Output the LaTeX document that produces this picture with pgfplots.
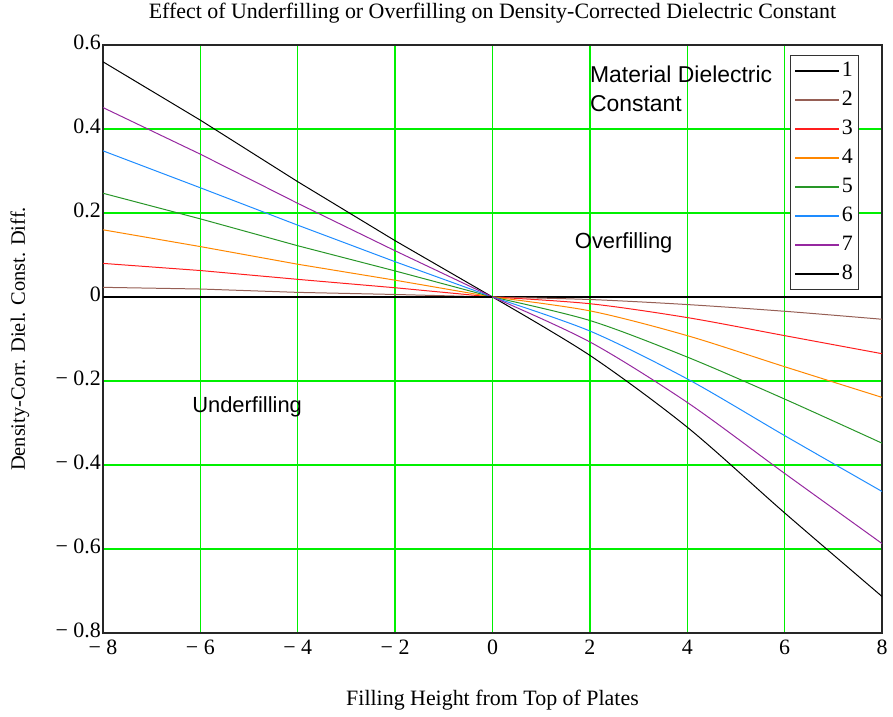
\documentclass[border=0pt]{standalone}
\usepackage{fontspec}
\setmainfont{Liberation Serif}
\newfontfamily\arial{Liberation Sans}
\usepackage{pgfplots}
\pgfplotsset{compat=1.18}
\definecolor{gridgreen}{RGB}{0,240,0}
\definecolor{cbrown}{RGB}{150,95,85}
\definecolor{cred}{RGB}{255,30,30}
\definecolor{corange}{RGB}{255,135,0}
\definecolor{cgreen}{RGB}{40,150,40}
\definecolor{cblue}{RGB}{30,140,255}
\definecolor{cpurple}{RGB}{150,40,160}
\begin{document}
\begin{tikzpicture}
\begin{axis}[
  name=ax,
  scale only axis,
  width=779bp, height=588bp,
  xmin=-8, xmax=8, ymin=-0.8, ymax=0.6,
  xtick={-8,-6,-4,-2,0,2,4,6,8},
  xticklabels={−\ 8,−\ 6,−\ 4,−\ 2,0,2,4,6,8},
  ytick={-0.8,-0.6,-0.4,-0.2,0,0.2,0.4,0.6},
  yticklabels={−\ 0.8,−\ 0.6,−\ 0.4,−\ 0.2,0,0.2,0.4,0.6},
  major tick length=0pt,
  tick label style={font=\fontsize{22}{26}\selectfont},
  xticklabel style={yshift=-6bp, inner sep=1bp},
  yticklabel style={xshift=-1bp, yshift=3bp, inner sep=1bp},
  grid=major,
  major grid style={gridgreen, line width=1.4pt},
  axis line style={black!85, line width=1.3pt},
  title={Effect of Underfilling or Overfilling on Density-Corrected Dielectric Constant},
  title style={at={(axis description cs:0.5,1.044)}, anchor=center, font=\fontsize{22}{26}\selectfont},
  xlabel={Filling Height from Top of Plates},
  xlabel style={at={(axis description cs:0.5,-0.114)}, anchor=center, font=\fontsize{22}{26}\selectfont},
  ylabel={Density-Corr. Diel. Const. Diff.},
  ylabel style={at={(axis description cs:-0.1066,0.5)}, anchor=center, font=\fontsize{20.5}{24}\selectfont},
  legend style={at={(axis description cs:0.882,0.983)}, anchor=north west,
    draw=black!80, line width=1pt, inner xsep=4bp, inner ysep=6bp,
    font=\fontsize{22}{26}\selectfont, row sep=10bp,
    nodes={inner sep=2bp, text height=13bp, text depth=2bp}},
  legend cell align=left,
  legend image code/.code={\draw[#1, line width=1.2pt] (0bp,0bp) -- (44bp,0bp);},
  every axis plot/.append style={line width=1pt},
]
\addplot[black] coordinates {(-8,0.560)(-6,0.421)(-4,0.2745)(-2,0.134)(0,0)};
\addlegendentry{1}
\addplot[cbrown] coordinates {(-8,0.023)(-6,0.019)(-4,0.011)(-2,0.006)(0,0)};
\addlegendentry{2}
\addplot[cred] coordinates {(-8,0.080)(-6,0.063)(-4,0.042)(-2,0.022)(0,0)};
\addlegendentry{3}
\addplot[corange] coordinates {(-8,0.160)(-6,0.120)(-4,0.078)(-2,0.040)(0,0)};
\addlegendentry{4}
\addplot[cgreen] coordinates {(-8,0.247)(-6,0.186)(-4,0.122)(-2,0.062)(0,0)};
\addlegendentry{5}
\addplot[cblue] coordinates {(-8,0.348)(-6,0.260)(-4,0.171)(-2,0.084)(0,0)};
\addlegendentry{6}
\addplot[cpurple] coordinates {(-8,0.451)(-6,0.340)(-4,0.223)(-2,0.110)(0,0)};
\addlegendentry{7}
\addplot[black, line width=1.8pt] coordinates {(-8,0)(8,0)};
\addlegendentry{8}
\addplot[black, smooth, tension=0.5, forget plot] coordinates {(0,0)(2,-0.139)(4,-0.310)(6,-0.514)(8,-0.713)};
\addplot[cbrown, smooth, tension=0.5, forget plot] coordinates {(0,0)(2,-0.006)(4,-0.018)(6,-0.034)(8,-0.053)};
\addplot[cred, smooth, tension=0.5, forget plot] coordinates {(0,0)(2,-0.016)(4,-0.049)(6,-0.092)(8,-0.135)};
\addplot[corange, smooth, tension=0.5, forget plot] coordinates {(0,0)(2,-0.033)(4,-0.092)(6,-0.166)(8,-0.239)};
\addplot[cgreen, smooth, tension=0.5, forget plot] coordinates {(0,0)(2,-0.056)(4,-0.143)(6,-0.243)(8,-0.348)};
\addplot[cblue, smooth, tension=0.5, forget plot] coordinates {(0,0)(2,-0.081)(4,-0.195)(6,-0.330)(8,-0.463)};
\addplot[cpurple, smooth, tension=0.5, forget plot] coordinates {(0,0)(2,-0.107)(4,-0.251)(6,-0.420)(8,-0.587)};
\node[anchor=north west, align=left, font=\arial\fontsize{23}{29}\selectfont, inner sep=0pt] at (axis cs:2.0,0.550) {Material Dielectric\\Constant};
\node[anchor=west, font=\arial\fontsize{22}{25}\selectfont, inner sep=0pt] at (axis cs:1.69,0.129) {Overfilling};
\node[anchor=west, font=\arial\fontsize{22}{25}\selectfont, inner sep=0pt] at (axis cs:-6.17,-0.262) {Underfilling};
\end{axis}
\pgfresetboundingbox
\path[use as bounding box] ([xshift=-103bp,yshift=-84bp]ax.south west) rectangle ([xshift=11bp,yshift=45bp]ax.north east);
\end{tikzpicture}
\end{document}
